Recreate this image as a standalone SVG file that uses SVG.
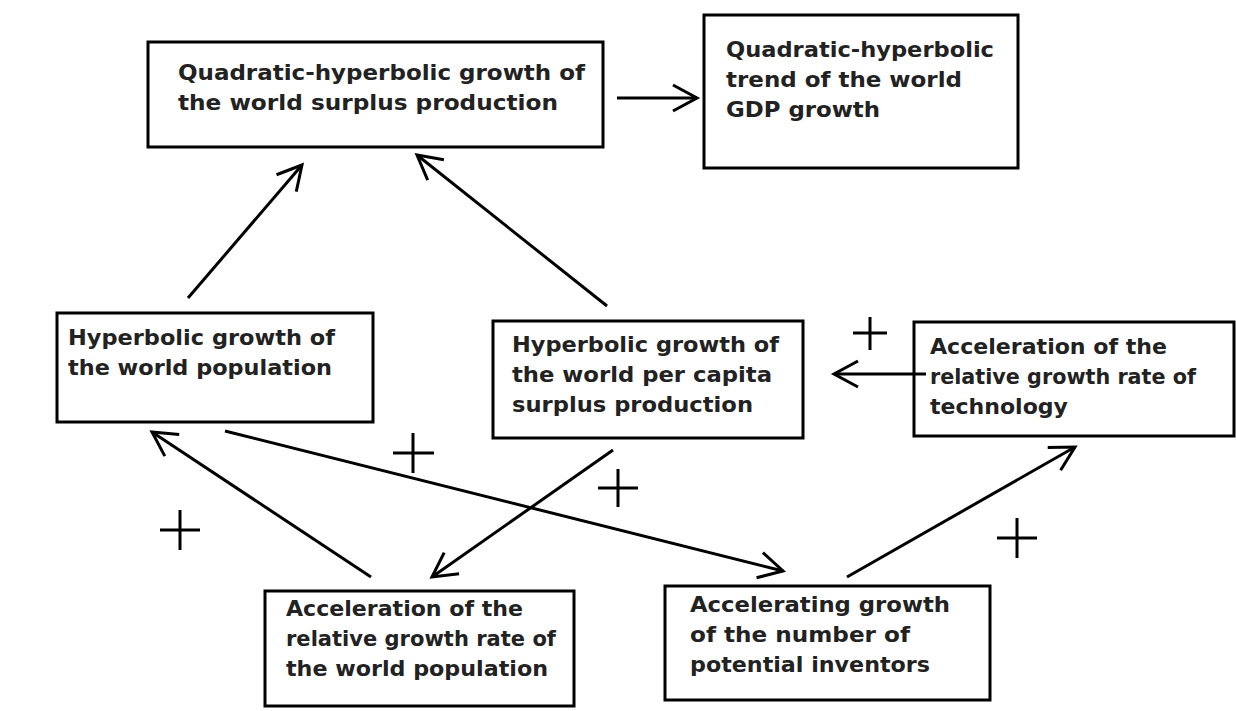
<svg xmlns="http://www.w3.org/2000/svg" width="1236" height="711" viewBox="0 0 1236 711">
<style>
.b{fill:#fff;stroke:#000;stroke-width:3}
.t{font-family:"DejaVu Sans","Liberation Sans",sans-serif;font-weight:bold;font-size:21px;fill:#222}
.c line{stroke:#000;stroke-width:3}
.p{stroke:#000;stroke-width:3}
</style>
<defs>
<marker id="a2" markerWidth="30" markerHeight="30" refX="26" refY="15" orient="auto" markerUnits="userSpaceOnUse"><path d="M2,2 L26,15 L2,28" fill="none" stroke="#000" stroke-width="3"/></marker></defs>
<rect width="1236" height="711" fill="#fff"/>
<g id="n1"><rect class="b" x="148" y="42" width="455" height="105"/><text class="t" x="178" y="80" textLength="407" lengthAdjust="spacingAndGlyphs">Quadratic-hyperbolic growth of</text><text class="t" x="178" y="110" textLength="380" lengthAdjust="spacingAndGlyphs">the world surplus production</text></g>
<g id="n2"><rect class="b" x="704" y="15" width="314" height="153"/><text class="t" x="726" y="57" textLength="268" lengthAdjust="spacingAndGlyphs">Quadratic-hyperbolic</text><text class="t" x="726" y="87" textLength="236" lengthAdjust="spacingAndGlyphs">trend of the world</text><text class="t" x="726" y="117" textLength="154" lengthAdjust="spacingAndGlyphs">GDP growth</text></g>
<g id="n3"><rect class="b" x="57" y="313" width="316" height="109"/><text class="t" x="68" y="345" textLength="267" lengthAdjust="spacingAndGlyphs">Hyperbolic growth of</text><text class="t" x="68" y="375" textLength="264" lengthAdjust="spacingAndGlyphs">the world population</text></g>
<g id="n4"><rect class="b" x="493" y="321" width="310" height="117"/><text class="t" x="512" y="352" textLength="267" lengthAdjust="spacingAndGlyphs">Hyperbolic growth of</text><text class="t" x="512" y="382" textLength="260" lengthAdjust="spacingAndGlyphs">the world per capita</text><text class="t" x="512" y="412" textLength="241" lengthAdjust="spacingAndGlyphs">surplus production</text></g>
<g id="n5"><rect class="b" x="914" y="322" width="320" height="114"/><text class="t" x="930" y="354" textLength="237" lengthAdjust="spacingAndGlyphs">Acceleration of the</text><text class="t" x="930" y="384" textLength="266" lengthAdjust="spacingAndGlyphs">relative growth rate of</text><text class="t" x="930" y="414" textLength="138" lengthAdjust="spacingAndGlyphs">technology</text></g>
<g id="n6"><rect class="b" x="265" y="591" width="309" height="115"/><text class="t" x="286" y="616" textLength="237" lengthAdjust="spacingAndGlyphs">Acceleration of the</text><text class="t" x="286" y="646" textLength="270" lengthAdjust="spacingAndGlyphs">relative growth rate of</text><text class="t" x="286" y="676" textLength="262" lengthAdjust="spacingAndGlyphs">the world population</text></g>
<g id="n7"><rect class="b" x="665" y="586" width="325" height="114"/><text class="t" x="690" y="612" textLength="260" lengthAdjust="spacingAndGlyphs">Accelerating growth</text><text class="t" x="690" y="642" textLength="220" lengthAdjust="spacingAndGlyphs">of the number of</text><text class="t" x="690" y="672" textLength="240" lengthAdjust="spacingAndGlyphs">potential inventors</text></g>
<g id="connectors" class="c">
<line x1="617" y1="98" x2="697" y2="98" marker-end="url(#a2)"/>
<line x1="188" y1="298" x2="302" y2="165" marker-end="url(#a2)"/>
<line x1="607" y1="306" x2="417" y2="155" marker-end="url(#a2)"/>
<line x1="926" y1="374" x2="834" y2="374" marker-end="url(#a2)"/>
<line x1="371" y1="577" x2="152" y2="432" marker-end="url(#a2)"/>
<line x1="225" y1="431" x2="783" y2="571" marker-end="url(#a2)"/>
<line x1="613" y1="450" x2="432" y2="577" marker-end="url(#a2)"/>
<line x1="847" y1="577" x2="1075" y2="447" marker-end="url(#a2)"/>
</g>
<g id="plus" class="p">
<path d="M853,333 H887 M870,317 V350"/>
<path d="M393,453 H434 M413,433 V473"/>
<path d="M598,488 H638 M618,469 V507"/>
<path d="M160,530 H200 M180,510 V550"/>
<path d="M997,538 H1037 M1017,518 V558"/>
</g>
</svg>
